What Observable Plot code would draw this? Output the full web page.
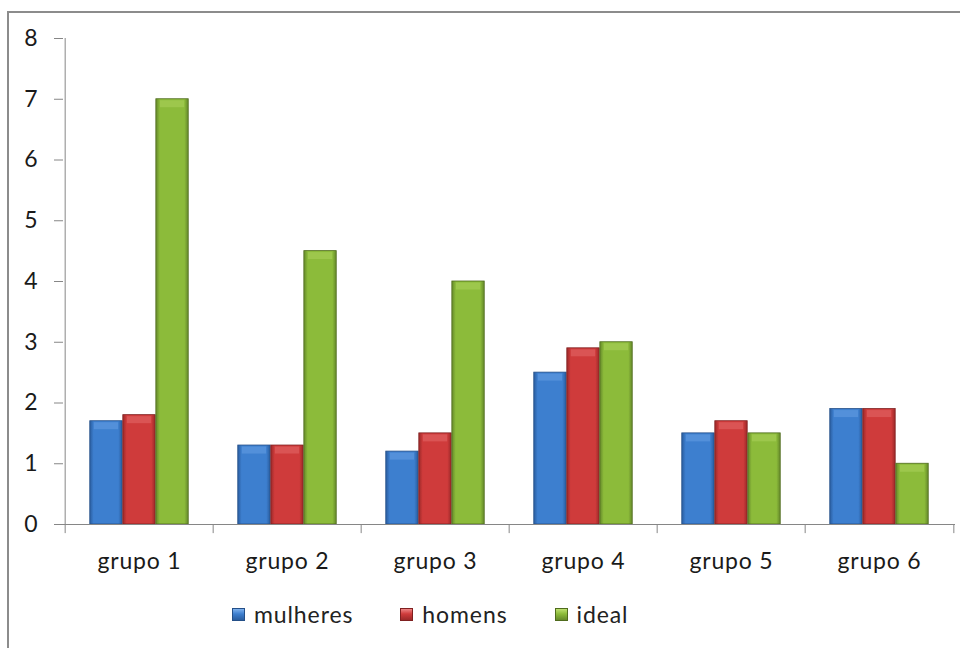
<!DOCTYPE html>
<html><head><meta charset="utf-8">
<script src="https://cdn.jsdelivr.net/npm/d3@7"></script>
<script src="https://cdn.jsdelivr.net/npm/@observablehq/plot@0.6"></script>
<style>
body{margin:0;background:#fff;font-family:Lato,"Open Sans",sans-serif;overflow:hidden}
#frame{position:absolute;left:7px;top:11px;width:1000px;height:700px;border:2px solid #8c8c8c;box-sizing:border-box}
#chart{position:absolute;left:0;top:0}
#chart svg text{letter-spacing:0.8px}
#legend{position:absolute;top:600px;left:232px;display:flex;gap:47px;font-size:23px;letter-spacing:0.9px;color:#222;line-height:28px}
#legend .item{display:flex;align-items:center;gap:9px}
#legend .sw{width:13px;height:13px;box-sizing:border-box}
</style></head>
<body>
<div id="frame"></div>
<div id="chart"></div>
<div id="legend"></div>
<script>
const groups = ["grupo 1","grupo 2","grupo 3","grupo 4","grupo 5","grupo 6"];
const seriesNames = ["mulheres","homens","ideal"];
const mulheres = [1.7,1.3,1.2,2.5,1.5,1.9];
const homens = [1.8,1.3,1.5,2.9,1.7,1.9];
const ideal = [7.0,4.5,4.0,3.0,1.5,1.0];
const yTicks = [0,1,2,3,4,5,6,7,8];

const seriesValues = [mulheres, homens, ideal];
const baseColors = ["#3d7fcf","#cf3b3b","#8cbb3a"];
const edgeColors = ["#2a5d9f","#9c2929","#65892a"];
const lightColors = ["#7fb2ee","#ee8585","#bde070"];
const outline = ["#244f88","#7f2020","#4f6b1d"];

const W = 960, H = 580, mL = 63, mR = 5, mT = 38, mB = 56;
const bw = (W - mL - mR) / groups.length;
const barW = bw * 2 / 9;

const marks = [];
seriesNames.forEach((s, i) => {
  const rows = groups.map((g, j) => ({group: g, value: seriesValues[i][j]}));
  const insetLeft = bw / 6 + i * barW;
  const insetRight = bw - insetLeft - barW;
  marks.push(Plot.barY(rows, {x: "group", y: "value", fill: `url(#grad${i})`, stroke: outline[i], strokeWidth: 0.8, insetLeft, insetRight}));
  marks.push(Plot.tickY(rows, {x: "group", y: "value", stroke: lightColors[i], strokeWidth: 7, dy: 4.5, strokeOpacity: 0.35, insetLeft: insetLeft + 4, insetRight: insetRight + 4}));
});

const svg = Plot.plot({
  width: W, height: H,
  marginLeft: mL, marginRight: mR, marginTop: mT, marginBottom: mB,
  style: {fontFamily: "Lato, 'Open Sans', sans-serif", background: "transparent"},
  x: {domain: groups, padding: 0},
  y: {domain: [0, 8]},
  marks: [
    ...marks,
    Plot.ruleY([0], {stroke: "#868686", strokeWidth: 1}),
    Plot.ruleX([groups[0]], {x: d => d, dx: -bw / 2, y1: -0.15, y2: 8, stroke: "#868686"}),
    Plot.ruleX(groups.slice(1), {x: d => d, dx: -bw / 2, y1: -0.15, y2: 0, stroke: "#868686"}),
    Plot.ruleX([groups[groups.length - 1]], {x: d => d, dx: bw / 2, y1: -0.15, y2: 0, stroke: "#868686"}),
    Plot.axisY({ticks: yTicks, tickSize: 9, tickPadding: 16, fontSize: 23, stroke: "#868686", fill: "#1a1a1a", tickFormat: d => String(d), label: null}),
    Plot.axisX({tickSize: 0, tickPadding: 28, fontSize: 23, fill: "#1a1a1a", label: null})
  ]
});

const defs = d3.select(svg).insert("defs", ":first-child");
baseColors.forEach((c, i) => {
  const g = defs.append("linearGradient").attr("id", `grad${i}`).attr("x1", 0).attr("x2", 1).attr("y1", 0).attr("y2", 0);
  [[0, edgeColors[i]], [0.12, c], [0.5, c], [0.88, c], [1, edgeColors[i]]].forEach(([o, col]) =>
    g.append("stop").attr("offset", o).attr("stop-color", col));
});
document.getElementById("chart").appendChild(svg);

const legend = d3.select("#legend");
seriesNames.forEach((s, i) => {
  const it = legend.append("div").attr("class", "item");
  it.append("div").attr("class", "sw")
    .style("background", `linear-gradient(180deg, ${lightColors[i]} 0%, ${baseColors[i]} 45%, ${edgeColors[i]} 100%)`)
    .style("border", `1px solid ${outline[i]}`);
  it.append("span").text(s);
});
</script>
</body></html>
